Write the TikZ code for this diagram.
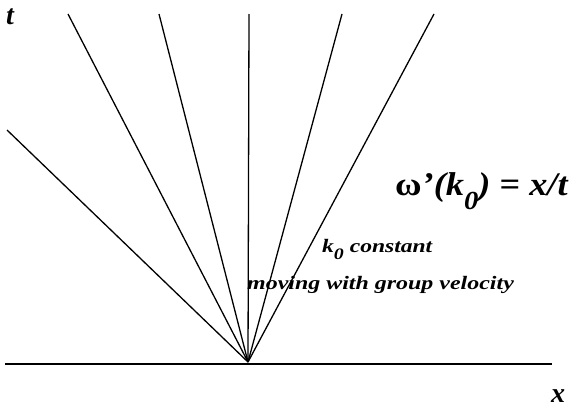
\documentclass[tikz,border=0pt]{standalone}
\usepackage{fontspec}
\setmainfont{Liberation Serif}
\usepackage{graphicx}
\begin{document}
\begin{tikzpicture}[x=1pt,y=-1pt,
  ray/.style={line width=1.3pt},
  axis/.style={line width=1.5pt},
  lbl/.style={inner sep=0pt,font=\bfseries\itshape}]
\useasboundingbox (0,0) rectangle (569,407);
\coordinate (A) at (248,362);
\coordinate (e1) at (7,130);
\coordinate (e2) at (68,14);
\coordinate (e3) at (159,14);
\coordinate (e4) at (249,14);
\coordinate (e5) at (342,14);
\coordinate (e6) at (434,14);
\coordinate (xl) at (5,364);
\coordinate (xr) at (552,364);
\draw[axis] (xl) -- (xr);
\foreach \e in {e1,e2,e3,e4,e5,e6} \draw[ray] (A) -- (\e);
\node[lbl,anchor=base west] (t) at (6,24) {\fontsize{28}{28}\selectfont t};
\node[lbl,anchor=base west] (x) at (551,402) {\fontsize{28}{28}\selectfont x};
\node[lbl,anchor=base west] (f) at (395,195) {\scalebox{1.1}[1]{\fontsize{33}{33}\selectfont{\upshape ω}’(k\raisebox{-0.45em}{\fontsize{26}{26}\selectfont 0}) = x/t}};
\node[lbl,anchor=base west] (k) at (322,252) {\scalebox{1.24}[1]{\fontsize{19}{19}\selectfont k\raisebox{-0.4em}{\fontsize{16}{16}\selectfont 0} constant}};
\node[lbl,anchor=base west] (m) at (247,289) {\scalebox{1.26}[1]{\fontsize{19}{19}\selectfont moving with group velocity}};
\end{tikzpicture}
\end{document}
